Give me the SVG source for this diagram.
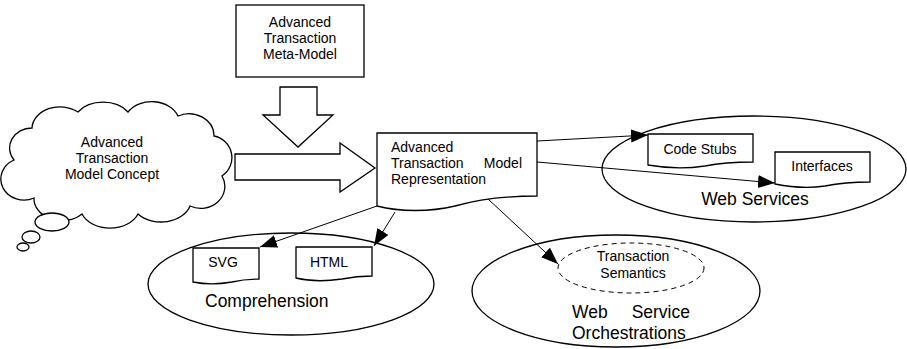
<svg xmlns="http://www.w3.org/2000/svg" width="907" height="349" viewBox="0 0 907 349">
<style>
.s{fill:#fff;stroke:#000;stroke-width:1.3}
.e{fill:none;stroke:#000;stroke-width:1.3}
.d{fill:none;stroke:#000;stroke-width:1;stroke-dasharray:5 4}
.t{font-family:"Liberation Sans",Arial,sans-serif;font-size:14px;fill:#000}
.b{font-family:"Liberation Sans",Arial,sans-serif;font-size:17.5px;fill:#000}
.c{text-anchor:middle}
.l{fill:none;stroke:#000;stroke-width:1}
</style>
<defs>
<marker id="ah" markerUnits="userSpaceOnUse" markerWidth="18" markerHeight="14" refX="17" refY="6.5" orient="auto">
<path d="M0,0 L17,6.5 L0,13 Z" fill="#000"/>
</marker>
</defs>
<rect width="907" height="349" fill="#fff"/>
<g id="web-services">
<ellipse class="e" cx="754" cy="169" rx="152" ry="53"/>
<text class="b c" x="755" y="205">Web Services</text>
</g>
<g id="comprehension">
<ellipse class="e" cx="291" cy="284" rx="143" ry="51"/>
<text class="b" x="205" y="307">Comprehension</text>
</g>
<g id="orchestrations">
<ellipse class="e" cx="616" cy="291" rx="144" ry="56"/>
<text class="b" x="572" y="318">Web</text>
<text class="b" x="690" y="318" text-anchor="end">Service</text>
<text class="b" x="572" y="339">Orchestrations</text>
</g>
<g id="semantics">
<ellipse class="d" cx="631" cy="268" rx="73" ry="25"/>
<text class="t c" x="633" y="261">Transaction</text>
<text class="t c" x="633" y="278">Semantics</text>
</g>
<g id="meta-model">
<rect class="s" x="236" y="5" width="128" height="72"/>
<text class="t c" x="300" y="27">Advanced</text>
<text class="t c" x="300" y="43">Transaction</text>
<text class="t c" x="300" y="59">Meta-Model</text>
</g>
<g id="concept">
<path class="s" d="M14,160 A22,20 0 0 1 32,128 A28,22 0 0 1 78,112 A30,22 0 0 1 128,112 A28,22 0 0 1 178,116 A25,22 0 0 1 214,136 A22,22 0 0 1 222,176 A24,22 0 0 1 190,206 A30,22 0 0 1 138,214 A30,22 0 0 1 82,214 A28,22 0 0 1 34,198 A22,20 0 0 1 14,160 Z"/>
<ellipse class="s" cx="52" cy="222" rx="17" ry="9"/>
<ellipse class="s" cx="31" cy="237" rx="9" ry="6"/>
<ellipse class="s" cx="23" cy="247" rx="6" ry="4"/>
<text class="t c" x="112" y="147">Advanced</text>
<text class="t c" x="112" y="163">Transaction</text>
<text class="t c" x="112" y="179">Model Concept</text>
</g>
<g id="block-arrows">
<polygon class="s" points="280,87 317,87 317,115 333,115 298,147 263,115 280,115"/>
<polygon class="s" points="235,154 340,154 340,143 375,168 340,192 340,180 235,180"/>
</g>
<g id="representation">
<path class="s" d="M377,133 H537 V196 C510,196 480,199 455,206 C430,212 400,212 377,206 Z"/>
<text class="t" x="391" y="152">Advanced</text>
<text class="t" x="391" y="168">Transaction</text>
<text class="t" x="522" y="168" text-anchor="end">Model</text>
<text class="t" x="391" y="184">Representation</text>
</g>
<g id="code-stubs">
<path class="s" d="M648,134 H753 V162 C735,162 720,163 705,166 C685,169 665,168 648,165 Z"/>
<text class="t c" x="700" y="154">Code Stubs</text>
</g>
<g id="interfaces">
<path class="s" d="M775,152 H870 V182 C853,182 840,183 825,186 C805,189 790,187 775,184 Z"/>
<text class="t c" x="822" y="171">Interfaces</text>
</g>
<g id="svg-doc">
<path class="s" d="M193,248 H259 V279 C250,279 240,280 232,282 C215,285 203,284 193,282 Z"/>
<text class="t c" x="223" y="267">SVG</text>
</g>
<g id="html-doc">
<path class="s" d="M296,247 H372 V276 C362,276 352,277 342,279 C322,282 308,281 296,278 Z"/>
<text class="t c" x="329" y="267">HTML</text>
</g>
<g id="connectors">
<line class="l" x1="537" y1="141" x2="648" y2="135" marker-end="url(#ah)"/>
<line class="l" x1="537" y1="162" x2="775" y2="183" marker-end="url(#ah)"/>
<line class="l" x1="377" y1="206" x2="260" y2="247" marker-end="url(#ah)"/>
<line class="l" x1="395" y1="212" x2="374" y2="246" marker-end="url(#ah)"/>
<line class="l" x1="488" y1="199" x2="558" y2="264" marker-end="url(#ah)"/>
</g>
</svg>
